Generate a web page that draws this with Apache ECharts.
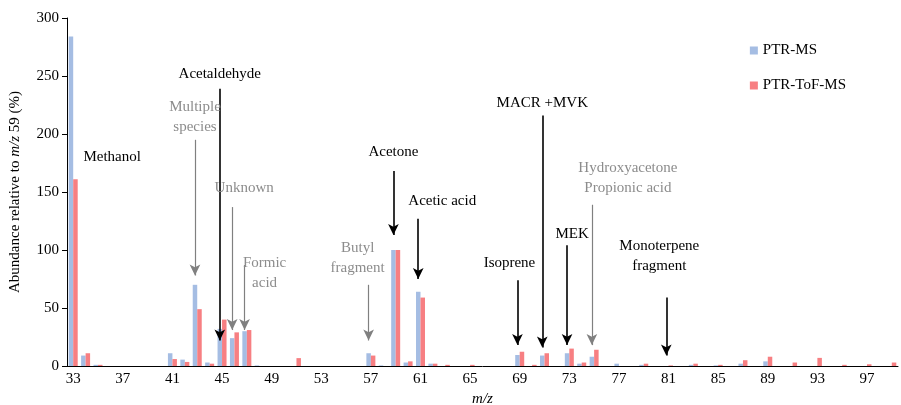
<!DOCTYPE html>
<html><head><meta charset="utf-8">
<script src="https://cdn.jsdelivr.net/npm/echarts@6/dist/echarts.min.js"></script>
<style>html,body{margin:0;background:#fff}#c{width:901px;height:405px}</style>
</head><body><div id="c"></div>
<script>
// m/z 33..99
const mz = [];
for (let m = 33; m <= 99; m++) mz.push(String(m));
// values per m/z (index 0 = 33)
const ptrms = [284,9,1,0,0,0,0,0,11,5.5,70,3,32,24,30,0.5,0,0,0,0,0,0,0,0,11,0.5,100,3,64,2,0,0,0,0,0,0,9.5,0,9,0,11,2,8,0,2,0,1,0,0,0,1,0,0.5,0,2,0,4,0,0,0,0,0,0,0,0,0,0];
const ptrtof = [161,11,1,0,0,0,0,0,6,3.5,49,2,40,29,31,0,0,0,6.8,0,0,0,0,0,9,0,100,4,59,2,1,0,1,0,0,0,12.3,1,11,0,15,3,14,0,0,0,2,0,0.5,0,2,0,1,0,5,0,8,0,3,0,7,0,1,0,1.5,0,3];
// annotations: label, x (m/z), arrow from, arrow to, label y, label x offset, gray?
const notes = [
  {t:'Acetaldehyde', x:'45', y1:239, y2:22, ty:252, dx:0, g:false},
  {t:'Multiple\nspecies', x:'43', y1:195, y2:78, ty:215, dx:0, g:true},
  {t:'Unknown', x:'46', y1:137, y2:31, ty:153, dx:12, g:true},
  {t:'Formic\nacid', x:'47', y1:87, y2:31, ty:80, dx:20, g:true},
  {t:'Methanol', x:'36', y1:null, ty:180, dx:4, g:false},
  {t:'Butyl\nfragment', x:'57', y1:70, y2:22, ty:93, dx:-11, g:true},
  {t:'Acetone', x:'59', y1:168, y2:113, ty:184, dx:0, g:false},
  {t:'Acetic acid', x:'61', y1:127, y2:75, ty:142, dx:24, g:false},
  {t:'Isoprene', x:'69', y1:74, y2:18, ty:89, dx:-8, g:false},
  {t:'MACR +MVK', x:'71', y1:216, y2:16, ty:227, dx:0, g:false},
  {t:'MEK', x:'73', y1:104, y2:18, ty:114, dx:5, g:false},
  {t:'Hydroxyacetone\nPropionic acid', x:'75', y1:139, y2:18, ty:162, dx:36, g:true},
  {t:'Monoterpene\nfragment', x:'81', y1:59, y2:9, ty:95, dx:-7, g:false}
];
const chart = echarts.init(document.getElementById('c'));
const font = 'Liberation Serif';
const arrows = notes.filter(n => n.y1 != null).map(n => {
  const c = n.g ? '#808080' : '#000';
  return [{coord:[n.x, n.y1], lineStyle:{color:c, width:n.g?1.2:1.6, type:'solid'}, itemStyle:{color:c}}, {coord:[n.x, n.y2]}];
});
const texts = notes.map(n => ({
  coord:[n.x, n.ty],
  label:{show:true, position:'inside', formatter:n.t, color:n.g?'#8c8c8c':'#000', fontFamily:font, fontSize:15, offset:[n.dx,0], lineHeight:20}
}));
chart.setOption({
  animation:false,
  textStyle:{fontFamily:font},
  grid:{left:67, right:3, top:18, bottom:39, outerBoundsMode:'none', containLabel:false},
  legend:{right:50, top:38, orient:'vertical', itemGap:20, itemWidth:8, itemHeight:8, icon:'rect',
    textStyle:{fontFamily:font, fontSize:15, color:'#000'}},
  xAxis:{type:'category', data:mz, name:'m/z', nameLocation:'middle', nameGap:23,
    nameTextStyle:{fontStyle:'italic', fontSize:15, color:'#000'},
    axisLine:{lineStyle:{color:'#000'}}, axisTick:{interval:0, lineStyle:{color:'#000'}},
    axisLabel:{interval:3, color:'#000', fontSize:15, margin:6}},
  yAxis:{type:'value', min:0, max:300, interval:50,
    name:'{a|Abundance relative to }{b|m/z}{a| 59 (%)}', nameLocation:'middle', nameGap:44,
    nameTextStyle:{rich:{a:{fontFamily:font, fontSize:15, color:'#000'}, b:{fontFamily:font, fontSize:15, fontStyle:'italic', color:'#000'}}},
    axisLine:{show:true, lineStyle:{color:'#000'}}, axisTick:{show:true, lineStyle:{color:'#000'}},
    splitLine:{show:false}, axisLabel:{color:'#000', fontSize:15}},
  series:[
    {name:'PTR-MS', type:'bar', data:ptrms, barWidth:4.5, barGap:'0%', itemStyle:{color:'#a5bde3'},
      markLine:{silent:true, symbol:['none','arrow'], symbolSize:[8,11], label:{show:false}, data:arrows},
      markPoint:{silent:true, symbol:'circle', symbolSize:2, itemStyle:{color:'rgba(0,0,0,0)'}, data:texts}},
    {name:'PTR-ToF-MS', type:'bar', data:ptrtof, barWidth:4.5, itemStyle:{color:'#f77f82'}}
  ]
});
</script></body></html>
